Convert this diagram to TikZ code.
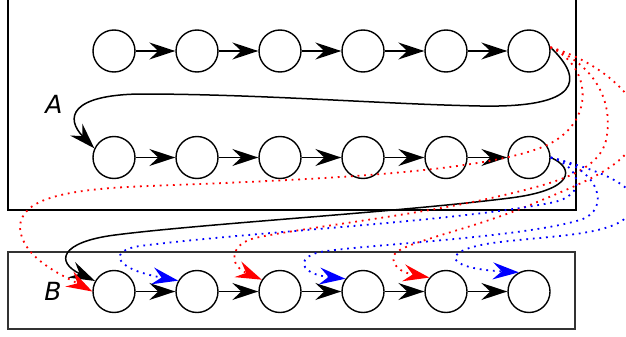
\documentclass[tikz,border=0pt]{standalone}
\usepackage{fontspec}
\setmainfont{DejaVu Sans}
\usetikzlibrary{arrows.meta}

\begin{document}
\begin{tikzpicture}[x=1pt, y=-1pt, node distance=83pt]
\tikzstyle{state}    = [circle, draw=black, line width=1.4pt, minimum size=42pt, inner sep=0pt]
\tikzstyle{frame}    = [rectangle, draw=black, line width=2pt, inner sep=0pt]
\tikzstyle{letter}   = [inner sep=0pt, font=\fontsize{25pt}{30pt}\selectfont\itshape]
\tikzstyle{arrow}    = [line width=1.5pt, -{Stealth[length=26pt 0, width=17pt 0, inset=9pt 0]}]
\tikzstyle{redlink}  = [arrow, red, line width=1.8pt, dash pattern=on 1.8pt off 4.8pt]
\tikzstyle{bluelink} = [arrow, blue, line width=1.8pt, dash pattern=on 1.8pt off 4.8pt]
%
\useasboundingbox (0,0) rectangle (626,337);
\clip (0,0) rectangle (626,337);
%
\node (boxa)  [frame, minimum width=567.5pt, minimum height=230pt]                         at (291.75,94.5) {};
\node (boxb)  [frame, draw=black!80, line width=1.2pt, minimum width=567pt, minimum height=77pt] at (291.5,290.5) {};
\node (namea) [letter] at (54,104) {A};
\node (nameb) [letter] at (53,291) {B};
%
\node (a1)  [state] at (114,51) {};
\node (a2)  [state, right of=a1]  {};
\node (a3)  [state, right of=a2]  {};
\node (a4)  [state, right of=a3]  {};
\node (a5)  [state, right of=a4]  {};
\node (a6)  [state, right of=a5]  {};
\node (a7)  [state] at (114,157.5) {};
\node (a8)  [state, right of=a7]  {};
\node (a9)  [state, right of=a8]  {};
\node (a10) [state, right of=a9]  {};
\node (a11) [state, right of=a10] {};
\node (a12) [state, right of=a11] {};
\node (b1)  [state] at (114,291.5) {};
\node (b2)  [state, right of=b1]  {};
\node (b3)  [state, right of=b2]  {};
\node (b4)  [state, right of=b3]  {};
\node (b5)  [state, right of=b4]  {};
\node (b6)  [state, right of=b5]  {};
%
\draw [arrow] (a1)  -- (a2);
\draw [arrow] (a2)  -- (a3);
\draw [arrow] (a3)  -- (a4);
\draw [arrow] (a4)  -- (a5);
\draw [arrow] (a5)  -- (a6);
\draw [arrow] (a7)  -- (a8);
\draw [arrow] (a8)  -- (a9);
\draw [arrow] (a9)  -- (a10);
\draw [arrow] (a10) -- (a11);
\draw [arrow] (a11) -- (a12);
\draw [arrow] (b1)  -- (b2);
\draw [arrow] (b2)  -- (b3);
\draw [arrow] (b3)  -- (b4);
\draw [arrow] (b4)  -- (b5);
\draw [arrow] (b5)  -- (b6);
%
\draw [arrow] (a6.10) .. controls (585,80) and (580,108) .. (480,106)
              .. controls (380,104) and (260,94) .. (140,94)
              .. controls (70,95) and (65,118) .. (a7.155);
\draw [arrow] (a12.east) .. controls (575,168) and (575,190) .. (510,198)
              .. controls (400,212) and (200,224) .. (115,235)
              .. controls (60,242) and (55,262) .. (b1.151);
%
\draw [redlink] (a6.10) .. controls (595,68) and (595,128) .. (540,148)
                .. controls (470,174) and (300,180) .. (150,186)
                .. controls (60,189) and (20,200) .. (20,228)
                .. controls (22,258) and (62,275) .. (b1.west);
\draw [redlink] (a6.10) .. controls (595,65) and (612,100) .. (607,135)
                .. controls (603,170) and (560,182) .. (500,196)
                .. controls (420,215) and (300,228) .. (255,238)
                .. controls (230,244) and (228,265) .. (b3.147);
\draw [redlink] (a6.10) .. controls (600,62) and (645,100) .. (638,130)
                .. controls (632,165) and (585,182) .. (530,205)
                .. controls (470,230) and (400,243) .. (394,255)
                .. controls (390,270) and (410,274) .. (b5.140);
%
\draw [bluelink] (a12.east) .. controls (578,165) and (592,195) .. (550,203)
                 .. controls (450,222) and (250,232) .. (140,246)
                 .. controls (110,250) and (110,268) .. (b2.150);
\draw [bluelink] (a12.east) .. controls (600,168) and (612,210) .. (580,220)
                 .. controls (520,238) and (360,245) .. (320,252)
                 .. controls (295,258) and (300,274) .. (b4.144);
\draw [bluelink] (a12.east) .. controls (590,168) and (645,185) .. (632,210)
                 .. controls (620,235) and (560,235) .. (500,242)
                 .. controls (440,249) and (440,268) .. (b6.118);
\end{tikzpicture}
\end{document}
